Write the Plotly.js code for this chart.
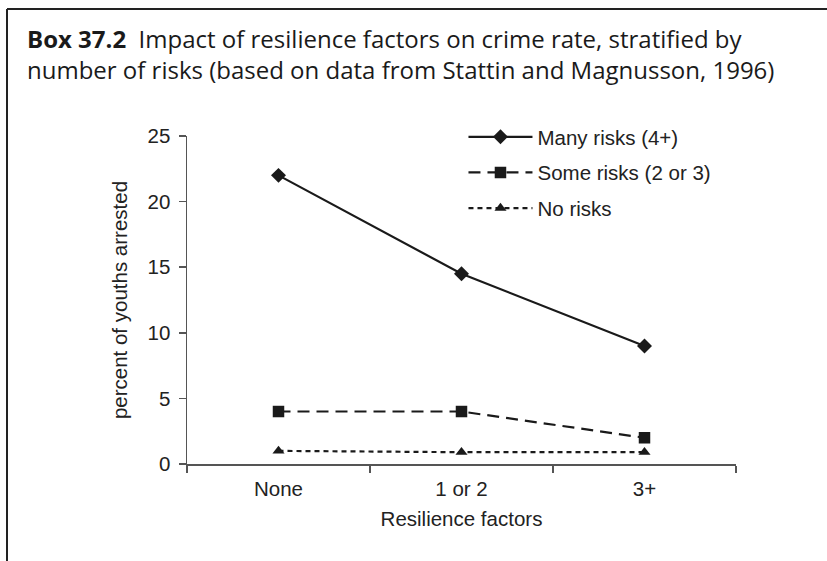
<!DOCTYPE html>
<html>
<head>
<meta charset="utf-8">
<script src="https://cdn.plot.ly/plotly-3.0.1.min.js"></script>
<style>html,body{margin:0;padding:0;background:#fff;}#chart{width:827px;height:561px;}</style>
</head>
<body>
<div id="chart"></div>
<script>
const categories = ["None", "1 or 2", "3+"];
const manyRisks = [22, 14.5, 9];
const someRisks = [4, 4, 2];
const noRisks = [1, 0.9, 0.9];
const seriesNames = ["Many risks (4+)", "Some risks (2 or 3)", "No risks"];
const yTicks = [0, 5, 10, 15, 20, 25];

const FONT = "Liberation Sans, Arial, Helvetica, sans-serif";
const axisFont = {family: FONT, size: 20.5, color: "#222"};

const traces = [
  {x: categories, y: manyRisks, name: seriesNames[0], legendgroup: "a", type: "scatter", mode: "lines+markers",
   line: {color: "#1a1a1a", width: 2.2, dash: "solid"},
   marker: {symbol: "diamond", size: 11.5, color: "#1a1a1a"}},
  {x: categories, y: someRisks, name: seriesNames[1], legendgroup: "b", type: "scatter", mode: "lines+markers",
   line: {color: "#1a1a1a", width: 2.2, dash: "12px,7px"},
   marker: {symbol: "square", size: 11.5, color: "#1a1a1a"}},
  {x: categories, y: noRisks, name: seriesNames[2], legendgroup: "c", type: "scatter", mode: "lines+markers",
   line: {color: "#1a1a1a", width: 2.2, dash: "5px,4px"},
   marker: {symbol: "triangle-up", size: 10.5, color: "#1a1a1a"}}
];

const layout = {
  width: 827, height: 561,
  margin: {l: 187, r: 91, t: 136, b: 97},
  paper_bgcolor: "#fff", plot_bgcolor: "#fff",
  showlegend: true,
  legend: {x: 0.5036, y: 1.058, xanchor: "left", yanchor: "top",
           font: {family: FONT, size: 20.5, color: "#222"},
           itemwidth: 64, traceorder: "grouped", tracegroupgap: 6, bgcolor: "rgba(0,0,0,0)"},
  xaxis: {type: "category", range: [-0.5, 2.5], tickson: "boundaries",
          ticks: "outside", ticklen: 7, tickcolor: "#555", tickwidth: 1.5,
          showline: true, linecolor: "#555", linewidth: 1.5, ticklabelstandoff: 6,
          showgrid: false, zeroline: false, tickfont: axisFont,
          title: {text: "Resilience factors", font: axisFont, standoff: 12}},
  yaxis: {range: [0, 25], tickvals: yTicks, ticktext: yTicks.map(String),
          ticks: "outside", ticklen: 7, tickcolor: "#555", tickwidth: 1.5,
          showline: true, linecolor: "#555", linewidth: 1.5, ticklabelstandoff: 4,
          showgrid: false, zeroline: false, tickfont: axisFont,
          title: {text: "percent of youths arrested", font: {family: FONT, size: 20.5, color: "#222"}, standoff: 14}},
  annotations: [
    {xref: "paper", yref: "paper", x: (25 - 187) / 549, y: (464 - 20) / 328, xanchor: "left", yanchor: "top",
     align: "left", showarrow: false,
     text: "<b>Box 37.2</b>  Impact of resilience factors on crime rate, stratified by<br>number of risks (based on data from Stattin and Magnusson, 1996)",
     font: {family: "Open Sans, sans-serif", size: 24, color: "#1a1a1a"}}
  ],
  shapes: [
    {type: "line", xref: "paper", yref: "paper", x0: (7 - 187) / 549, x1: (830 - 187) / 549,
     y0: (464 - 9) / 328, y1: (464 - 9) / 328, line: {color: "#222", width: 2}},
    {type: "line", xref: "paper", yref: "paper", x0: (7 - 187) / 549, x1: (7 - 187) / 549,
     y0: (464 - 9) / 328, y1: (464 - 565) / 328, line: {color: "#222", width: 2}}
  ]
};

Plotly.newPlot("chart", traces, layout, {displayModeBar: false, staticPlot: true});
</script>
</body>
</html>
